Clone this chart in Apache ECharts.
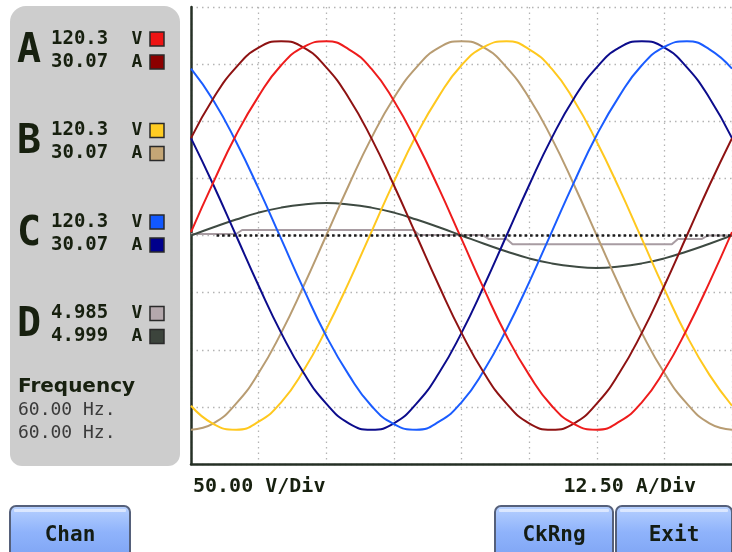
<!DOCTYPE html>
<html>
<head>
<meta charset="utf-8">
<script src="https://cdn.jsdelivr.net/npm/echarts@6/dist/echarts.min.js"></script>
<style>
html,body{margin:0;padding:0;background:#ffffff;}
#chart{width:732px;height:552px;}
</style>
</head>
<body>
<div id="chart"></div>
<script>
// ---- data (degrees of one 60 Hz cycle; volts / amps) ----
const angles = [0,15,30,45,60,75,90,105,120,135,150,165,180,195,210,225,240,255,270,285,300,315,330,345,360];

const phaseAVolts = [3,47,88,122,149,165,170,163,146,118,82,41,-3,-47,-88,-122,-149,-165,-170,-163,-146,-118,-82,-41,3];
const phaseBVolts = [-149,-165,-170,-163,-146,-118,-82,-41,3,47,88,122,149,165,170,163,146,118,82,41,-3,-47,-88,-122,-149];
const phaseCVolts = [146,118,82,41,-3,-47,-88,-122,-149,-165,-170,-163,-146,-118,-82,-41,3,47,88,122,149,165,170,163,146];

const phaseAAmps = [21.3,30.1,36.8,41.1,42.5,41.1,36.8,30.1,21.3,11,0,-11,-21.3,-30.1,-36.8,-41.1,-42.5,-41.1,-36.8,-30.1,-21.3,-11,0,11,21.3];
const phaseBAmps = [-42.5,-41.1,-36.8,-30.1,-21.3,-11,0,11,21.3,30.1,36.8,41.1,42.5,41.1,36.8,30.1,21.3,11,0,-11,-21.3,-30.1,-36.8,-41.1,-42.5];
const phaseCAmps = [21.3,11,0,-11,-21.3,-30.1,-36.8,-41.1,-42.5,-41.1,-36.8,-30.1,-21.3,-11,0,11,21.3,30.1,36.8,41.1,42.5,41.1,36.8,30.1,21.3];
const phaseDAmps = [0,1.8,3.5,5,6.1,6.8,7.1,6.8,6.1,5,3.5,1.8,0,-1.8,-3.5,-5,-6.1,-6.8,-7.1,-6.8,-6.1,-5,-3.5,-1.8,0];

const phaseDVoltAngles = [0,30,34,148,152,194,198,210,214,320,324,340,344,360];
const phaseDVolts = [1.3,1.3,4.8,4.8,0.5,0.5,-3,-3,-7.7,-7.7,-3,-3,0,0];

const voltTicks = {min:-200, max:200, step:50};
const ampTicks = {min:-50, max:50, step:12.5};
const angleTicks = {min:0, max:360, step:45};

const readouts = [
  {ch:'A', v:'120.3', a:'30.07', vc:'#ee1414', ac:'#8c0000'},
  {ch:'B', v:'120.3', a:'30.07', vc:'#ffcc22', ac:'#c4a676'},
  {ch:'C', v:'120.3', a:'30.07', vc:'#1158ff', ac:'#00008c'},
  {ch:'D', v:'4.985', a:'4.999', vc:'#b4a8ac', ac:'#3c443c'}
];
const freqTitle = 'Frequency';
const freqValues = ['60.00 Hz.', '60.00 Hz.'];
const voltScaleLabel = '50.00 V/Div';
const ampScaleLabel = '12.50 A/Div';
const buttons = ['Chan', 'CkRng', 'Exit'];

// ---- chart ----
const pair = (xs, ys) => xs.map((x, i) => [x, ys[i]]);
const chart = echarts.init(document.getElementById('chart'), null, {renderer:'canvas'});

function trace(name, data, color, yIdx, smooth) {
  return {
    name, type:'line', data, yAxisIndex:yIdx, smooth: smooth ? 0.5 : false,
    showSymbol:false, symbol:'none', animation:false,
    lineStyle:{color, width:2}, itemStyle:{color}, z:3
  };
}

const graphic = [];
// left readout panel
graphic.push({type:'rect', shape:{x:10, y:6, width:170, height:460, r:[16,16,12,12]},
  style:{fill:'#cdcdcd'}, z:-1});
const txt = '#17200f';
readouts.forEach((r, i) => {
  const y1 = 39 + i * 91.5, y2 = 62 + i * 91.5;
  graphic.push({type:'text', style:{text:r.ch, x:29, y:(y1+y2)/2 + 1, fill:txt,
    font:'bold 40px "DejaVu Sans Mono"', align:'center', verticalAlign:'middle'}});
  graphic.push({type:'text', style:{text:r.v, x:51, y:y1, fill:txt,
    font:'bold 19px "DejaVu Sans Mono"', align:'left', verticalAlign:'middle'}});
  graphic.push({type:'text', style:{text:r.a, x:51, y:y2, fill:txt,
    font:'bold 19px "DejaVu Sans Mono"', align:'left', verticalAlign:'middle'}});
  graphic.push({type:'text', style:{text:'V', x:137, y:y1, fill:txt,
    font:'bold 18px "DejaVu Sans Mono"', align:'center', verticalAlign:'middle'}});
  graphic.push({type:'text', style:{text:'A', x:137, y:y2, fill:txt,
    font:'bold 18px "DejaVu Sans Mono"', align:'center', verticalAlign:'middle'}});
  graphic.push({type:'rect', shape:{x:150, y:y1-7, width:14, height:14},
    style:{fill:r.vc, stroke:'#2a2a2a', lineWidth:1.5}});
  graphic.push({type:'rect', shape:{x:150, y:y2-7, width:14, height:14},
    style:{fill:r.ac, stroke:'#2a2a2a', lineWidth:1.5}});
});
graphic.push({type:'text', style:{text:freqTitle, x:18, y:387, fill:txt,
  font:'bold 20px "DejaVu Sans"', align:'left', verticalAlign:'middle'}});
freqValues.forEach((f, i) => {
  graphic.push({type:'text', style:{text:f, x:18, y:410 + i*23, fill:'#3a3a3a',
    font:'18px "DejaVu Sans Mono"', align:'left', verticalAlign:'middle'}});
});
// scale labels
graphic.push({type:'text', style:{text:voltScaleLabel, x:193, y:487, fill:txt,
  font:'bold 20px "DejaVu Sans Mono"', align:'left', verticalAlign:'middle'}});
graphic.push({type:'text', style:{text:ampScaleLabel, x:696, y:487, fill:txt,
  font:'bold 20px "DejaVu Sans Mono"', align:'right', verticalAlign:'middle'}});
// buttons
const btnBoxes = [[10,120],[495,118],[616,116]];
buttons.forEach((b, i) => {
  const [bx, bw] = btnBoxes[i];
  graphic.push({type:'rect', shape:{x:bx, y:506, width:bw, height:52, r:6},
    style:{fill:{type:'linear', x:0, y:0, x2:0, y2:1, colorStops:[
      {offset:0, color:'#b9d2ff'}, {offset:0.5, color:'#8fb3fb'}, {offset:1, color:'#7ea4f4'}]},
      stroke:'#55607a', lineWidth:2}});
  graphic.push({type:'rect', shape:{x:bx+4, y:509, width:bw-8, height:3, r:1},
    style:{fill:'rgba(255,255,255,0.55)'}});
  graphic.push({type:'text', style:{text:b, x:bx + bw/2, y:536, fill:'#141c14',
    font:'bold 21px "DejaVu Sans Mono"', align:'center', verticalAlign:'middle'}});
});

const option = {
  backgroundColor:'#ffffff',
  animation:false,
  grid:{left:191, top:7, right:-9, bottom:88, containLabel:false},
  xAxis:{type:'value', min:angleTicks.min, max:angleTicks.max, interval:angleTicks.step,
    axisLine:{show:true, onZero:false, lineStyle:{color:'#263026', width:2.5}},
    axisTick:{show:false}, axisLabel:{show:false},
    splitLine:{show:true, lineStyle:{color:'#b4b4b4', width:1.3, type:[1.5,4]}}},
  yAxis:[
    {type:'value', min:voltTicks.min, max:voltTicks.max, interval:voltTicks.step,
      axisLine:{show:true, onZero:false, lineStyle:{color:'#263026', width:2.5}},
      axisTick:{show:false}, axisLabel:{show:false},
      splitLine:{show:true, lineStyle:{color:'#b4b4b4', width:1.3, type:[1.5,4]}}},
    {type:'value', min:ampTicks.min, max:ampTicks.max, interval:ampTicks.step, position:'right',
      axisLine:{show:false}, axisTick:{show:false}, axisLabel:{show:false}, splitLine:{show:false}}
  ],
  series:[
    {type:'line', data:[], yAxisIndex:0, silent:true,
      markLine:{silent:true, symbol:'none', label:{show:false},
        lineStyle:{color:'#1a1a1a', width:2.5, type:[2.5,3]},
        data:[[{coord:[17,0]},{coord:[360,0]}]]}},
    trace('D volts', pair(phaseDVoltAngles, phaseDVolts), '#a89ca2', 0, false),
    trace('D amps', pair(angles, phaseDAmps), '#3e4a42', 1, true),
    trace('B amps', pair(angles, phaseBAmps), '#b89c72', 1, true),
    trace('B volts', pair(angles, phaseBVolts), '#ffc81e', 0, true),
    trace('C amps', pair(angles, phaseCAmps), '#0c0c8c', 1, true),
    trace('C volts', pair(angles, phaseCVolts), '#1a5cff', 0, true),
    trace('A amps', pair(angles, phaseAAmps), '#8e1212', 1, true),
    trace('A volts', pair(angles, phaseAVolts), '#ee1c1c', 0, true)
  ],
  graphic:graphic
};
chart.setOption(option);
</script>
</body>
</html>
